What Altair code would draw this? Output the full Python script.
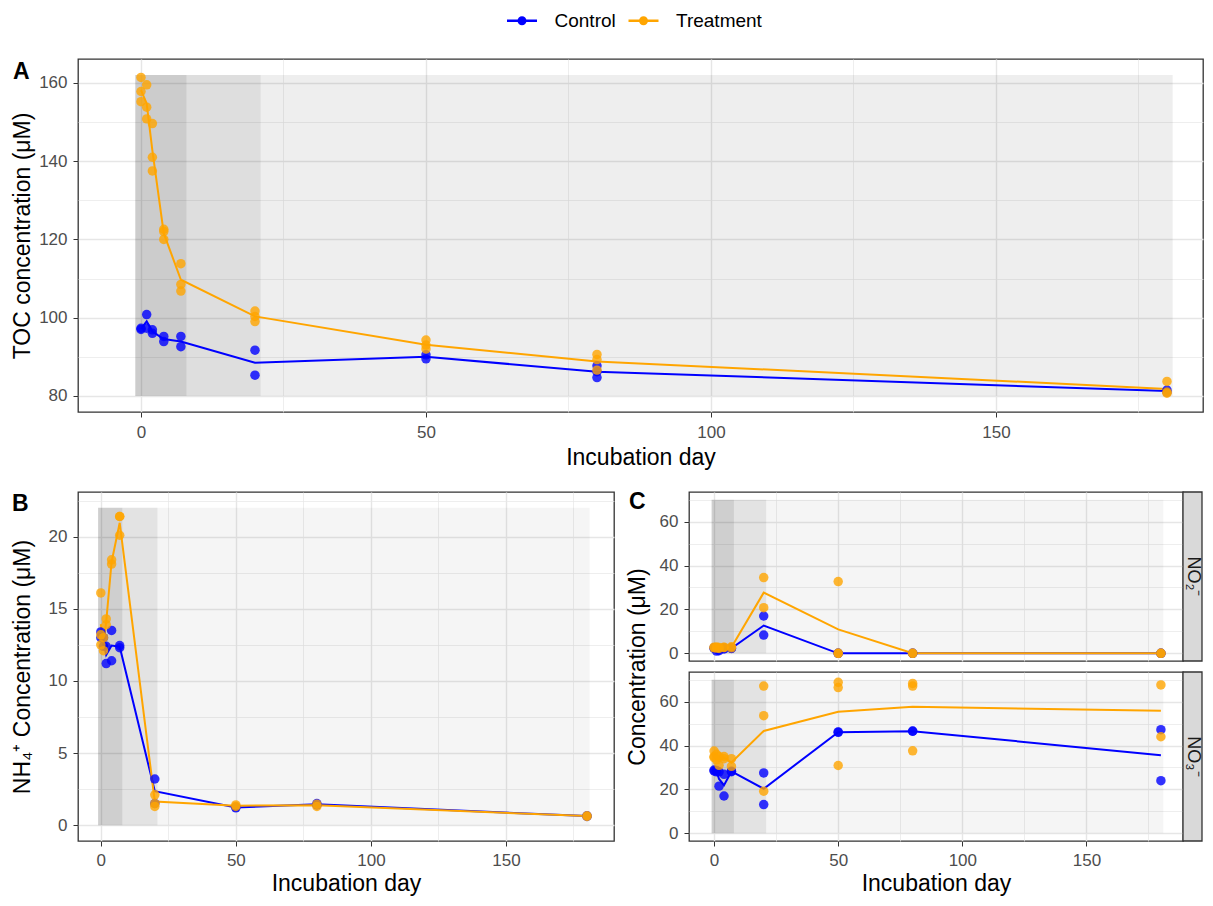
import altair as alt
import pandas as pd

FONT = "Liberation Sans"

# ---------------- data ----------------
series_names = ["Control", "Treatment"]
series_colors = ["#0000FF", "#FFA500"]

# Panel A: TOC
toc_ctrl_day = [0, 0, 1, 1, 2, 2, 4, 4, 7, 7, 20, 20, 50, 50, 80, 80, 80, 180, 180]
toc_ctrl_val = [97.3, 97.0, 100.8, 97.3, 96.9, 96.0, 95.2, 93.9, 95.2, 92.6, 91.7, 85.3,
                90.5, 89.5, 87.7, 86.2, 84.7, 81.5, 81.0]
toc_trt_day = [0, 0, 0, 1, 1, 1, 2, 2, 2, 4, 4, 4, 7, 7, 7, 20, 20, 20, 50, 50, 50,
               80, 80, 80, 180, 180, 180]
toc_trt_val = [161.4, 157.8, 155.2, 159.5, 153.8, 150.8, 149.6, 141.0, 137.5, 122.6, 122.0, 120.0,
               113.8, 108.5, 106.8, 101.7, 100.3, 99.0, 94.3, 93.0, 92.0, 90.6, 89.3, 86.6,
               83.7, 81.0, 80.7]

# Panel B: NH4+
nh4_ctrl_day = [0, 0, 1, 1, 2, 2, 4, 4, 7, 7, 20, 20, 50, 50, 80, 80, 180, 180]
nh4_ctrl_val = [13.4, 13.0, 13.0, 12.4, 11.2, 12.4, 13.5, 11.4, 12.45, 12.3, 3.2, 1.5,
                1.2, 1.25, 1.5, 1.4, 0.6, 0.65]
nh4_trt_day = [0, 0, 0, 1, 1, 2, 2, 4, 4, 7, 7, 7, 20, 20, 20, 50, 50, 80, 80, 180, 180]
nh4_trt_val = [16.1, 12.5, 13.2, 12.1, 13.0, 14.3, 13.9, 18.4, 18.1, 21.4, 21.4, 20.1,
               2.1, 1.5, 1.3, 1.4, 1.3, 1.45, 1.3, 0.65, 0.6]

# Panel C: NO2-
no2_ctrl_day = [0, 0, 1, 1, 2, 2, 4, 4, 7, 7, 20, 20, 50, 50, 80, 80, 180, 180]
no2_ctrl_val = [2.5, 2.2, 1.0, 2.0, 1.2, 1.8, 2.0, 2.4, 2.4, 2.2, 17.0, 8.3, 0, 0, 0, 0, 0, 0]
no2_trt_day = [0, 0, 1, 1, 2, 2, 4, 4, 7, 7, 20, 20, 50, 50, 50, 80, 80, 180, 180]
no2_trt_val = [2.8, 2.5, 2.9, 2.4, 2.7, 2.2, 2.6, 2.8, 3.0, 2.5, 34.5, 20.8, 32.7, 0, 0, 0, 0, 0, 0]

# Panel C: NO3-
no3_ctrl_day = [0, 0, 1, 1, 2, 2, 4, 4, 7, 7, 20, 20, 50, 50, 80, 80, 180, 180]
no3_ctrl_val = [28.8, 28.4, 28.0, 28.6, 21.5, 28.0, 17.0, 26.9, 28.1, 28.3, 27.5, 13.1,
                46.2, 46.0, 46.6, 46.5, 47.2, 24.0]
no3_trt_day = [0, 0, 0, 1, 1, 2, 2, 4, 4, 7, 7, 20, 20, 20, 50, 50, 50, 80, 80, 80, 180, 180]
no3_trt_val = [35.0, 37.5, 34.5, 36.0, 33.5, 31.0, 35.0, 35.0, 34.0, 34.0, 30.5, 67.1, 53.6, 19.2,
               68.8, 66.4, 30.9, 68.3, 67.1, 37.6, 67.6, 44.0]

# shaded incubation phases
phase_start = [-1, 8, 21]
phase_end = [8, 21, 181]
toc_shade = [0.2, 0.13, 0.065]
nh4_shade = [0.19, 0.11, 0.04]
conc_shade = [0.19, 0.11, 0.04]
toc_band = [80, 162]
nh4_band = [0, 22]
conc_band = [0, 70]

# tick values
x_major = [0, 50, 100, 150]
x_minor = [25, 75, 125, 175]
toc_major = [80, 100, 120, 140, 160]
toc_minor = [90, 110, 130, 150]
nh4_major = [0, 5, 10, 15, 20]
nh4_minor = [2.5, 7.5, 12.5, 17.5, 22.5]
conc_major = [0, 20, 40, 60]
conc_minor = [10, 30, 50, 70]

tags = ["A", "B", "C"]
strip_labels = ["NO₂⁻", "NO₃⁻"]
x_title = "Incubation day"
toc_title = "TOC concentration (μM)"
nh4_title = "NH₄⁺ Concentration (μM)"
conc_title = "Concentration (μM)"


def long_df(cd, cv, td, tv):
    return pd.DataFrame({
        "day": list(cd) + list(td),
        "value": list(cv) + list(tv),
        "series": [series_names[0]] * len(cd) + [series_names[1]] * len(td),
    })


color_scale = alt.Scale(domain=series_names, range=series_colors)

SYM = ("M-1.5,0L1.5,0"
       "M-0.33,0A0.33,0.33,0,1,0,0.33,0A0.33,0.33,0,1,0,-0.33,0"
       "M-0.2,0A0.2,0.2,0,1,0,0.2,0A0.2,0.2,0,1,0,-0.2,0"
       "M-0.08,0A0.08,0.08,0,1,0,0.08,0A0.08,0.08,0,1,0,-0.08,0")

legend = alt.Legend(title=None, orient="none", legendX=432.5, legendY=-50,
                    direction="horizontal", symbolType=SYM, symbolSize=400,
                    symbolStrokeWidth=2.3, labelFont=FONT, labelFontSize=19,
                    labelColor="black", labelOffset=21, columnPadding=6.5, padding=0)


def make_axis(major, minor, title=None, labels=True, ticks=True, **kw):
    vals = sorted(major + minor)
    test = "indexof([" + ",".join(str(v) for v in major) + "], datum.value) >= 0"
    args = dict(values=vals, grid=True, domain=False, labelOverlap=False, labelFlush=False,
                labelExpr=f"({test}) ? datum.label : ''",
                gridColor="#e6e6e6",
                gridWidth={"condition": {"test": test, "value": 1.4}, "value": 0.7},
                tickOpacity={"condition": {"test": test, "value": 1}, "value": 0},
                tickColor="#333333", tickWidth=1, tickSize=5,
                labelColor="#4d4d4d", labelFont=FONT, labelFontSize=17,
                titleFont=FONT, titleFontSize=23, titleColor="black",
                titleFontWeight="normal", labels=labels, ticks=ticks)
    args.update(kw)
    return alt.Axis(title=title, **args)


def panel(df, band, shade, xdom, ydom, width, height, xaxis, yaxis,
          tag=None, tag_xy=None, strip=None, strip_w=0):
    xs = alt.Scale(domain=xdom, nice=False, zero=False)
    ys = alt.Scale(domain=ydom, nice=False, zero=False)
    rect_df = pd.DataFrame({"start": phase_start, "end": phase_end, "shade": shade,
                            "lo": [band[0]] * 3, "hi": [band[1]] * 3})
    rects = alt.Chart(rect_df).mark_rect(color="black").encode(
        x=alt.X("start:Q", scale=xs, axis=xaxis), x2="end:Q",
        y=alt.Y("lo:Q", scale=ys, axis=yaxis), y2="hi:Q",
        opacity=alt.Opacity("shade:Q", scale=None, legend=None))
    base = alt.Chart(df)
    lines = base.transform_aggregate(
        mean_value="mean(value)", groupby=["day", "series"]
    ).mark_line(strokeWidth=2).encode(
        x=alt.X("day:Q", scale=xs, axis=xaxis),
        y=alt.Y("mean_value:Q", scale=ys, axis=yaxis),
        color=alt.Color("series:N", scale=color_scale, legend=legend))
    points = base.mark_circle(size=90, opacity=0.8).encode(
        x=alt.X("day:Q", scale=xs, axis=xaxis),
        y=alt.Y("value:Q", scale=ys, axis=yaxis),
        fill=alt.Fill("series:N", scale=color_scale, legend=None))
    layers = [rects, lines, points]
    if tag is not None:
        tdf = pd.DataFrame({"tag": [tag]})
        layers.append(alt.Chart(tdf).mark_text(
            align="left", baseline="middle", font=FONT, fontSize=23, fontWeight="bold",
            color="black").encode(text="tag:N", x=alt.value(tag_xy[0]), y=alt.value(tag_xy[1])))
    if strip is not None:
        sdf = pd.DataFrame({"label": [strip]})
        layers.append(alt.Chart(sdf).mark_rect(
            fill="#d9d9d9", stroke="#333333", strokeWidth=1.3).encode(
            x=alt.value(width), x2=alt.value(width + strip_w),
            y=alt.value(0), y2=alt.value(height)))
        layers.append(alt.Chart(sdf).mark_text(
            angle=90, align="center", baseline="middle", font=FONT, fontSize=18,
            color="#1a1a1a").encode(text="label:N", x=alt.value(width + strip_w / 2 + 0.5),
                                    y=alt.value(height / 2)))
    return alt.layer(*layers).properties(width=width, height=height)


toc_df = long_df(toc_ctrl_day, toc_ctrl_val, toc_trt_day, toc_trt_val)
nh4_df = long_df(nh4_ctrl_day, nh4_ctrl_val, nh4_trt_day, nh4_trt_val)
no2_df = long_df(no2_ctrl_day, no2_ctrl_val, no2_trt_day, no2_trt_val)
no3_df = long_df(no3_ctrl_day, no3_ctrl_val, no3_trt_day, no3_trt_val)

chart_a = panel(
    toc_df, toc_band, toc_shade, [-11.05, 186.32], [75.9, 166.1], 1125, 353,
    make_axis(x_major, x_minor, x_title, labelPadding=7, titlePadding=6),
    make_axis(toc_major, toc_minor, toc_title, labelPadding=6, titlePadding=4),
    tag=tags[0], tag_xy=(-65, 13))

chart_b = panel(
    nh4_df, nh4_band, nh4_shade, [-8.44, 190.0], [-1.1, 23.1], 536, 349,
    make_axis(x_major, x_minor, x_title, labelPadding=6, titlePadding=4),
    make_axis(nh4_major, nh4_minor, nh4_title, labelPadding=6, titlePadding=13.5),
    tag=tags[1], tag_xy=(-66, 12))

C_W = 494
C_H = 169
C_XDOM = [-10.1, 188.9]
chart_no2 = panel(
    no2_df, conc_band, conc_shade, C_XDOM, [-3.5, 73.5], C_W, C_H,
    make_axis(x_major, x_minor, None, labels=False, ticks=False),
    make_axis(conc_major, conc_minor, conc_title, labelPadding=6, titlePadding=9.5,
              titleY=174.5),
    tag=tags[2], tag_xy=(-60, 9.5), strip=strip_labels[0], strip_w=19)

chart_no3 = panel(
    no3_df, conc_band, conc_shade, C_XDOM, [-3.5, 73.5], C_W, C_H,
    make_axis(x_major, x_minor, x_title, labelPadding=6, titlePadding=4),
    make_axis(conc_major, conc_minor, None, labelPadding=6),
    strip=strip_labels[1], strip_w=19)

chart_c = alt.vconcat(chart_no2, chart_no3, spacing=11, bounds="flush")

chart = alt.vconcat(
    chart_a,
    alt.hconcat(chart_b, chart_c, spacing=10),
    spacing=19,
).properties(
    padding={"left": 2, "top": 1, "right": 0, "bottom": 0}
).configure_view(
    stroke="#333333", strokeWidth=1.3
)

chart.save("out.html", embed_options={"renderer": "svg", "actions": False})
